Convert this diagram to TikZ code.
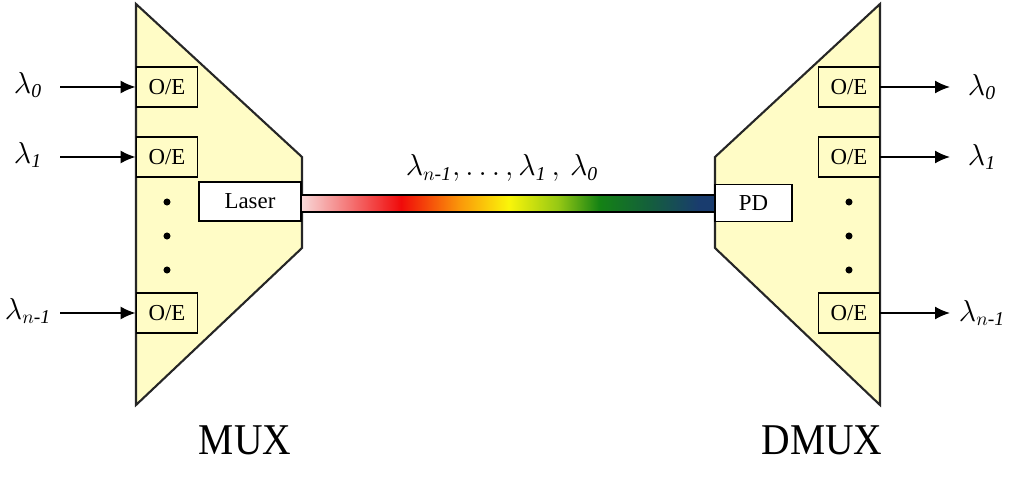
\documentclass[tikz,border=0pt]{standalone}
\usepackage{amsmath}
\usepackage{fontspec}
\setmainfont{Liberation Serif}
\usetikzlibrary{arrows.meta}

\definecolor{muxyellow}{RGB}{255,252,198}
\definecolor{fibpink}{RGB}{248,215,215}
\definecolor{fibred}{RGB}{240,10,10}
\definecolor{fiborange}{RGB}{250,150,10}
\definecolor{fibyellow}{RGB}{250,245,10}
\definecolor{fiblime}{RGB}{150,200,20}
\definecolor{fibgreen}{RGB}{20,130,20}
\definecolor{fibdkgreen}{RGB}{20,95,60}
\definecolor{fibblue}{RGB}{25,60,110}

% colour run of the fibre (middle 25bp--75bp is the path)
\pgfdeclarehorizontalshading{fiber}{100bp}{color(0bp)=(fibpink); color(25bp)=(fibpink);
  color(37bp)=(fibred); color(44bp)=(fiborange); color(50bp)=(fibyellow);
  color(56bp)=(fiblime); color(61bp)=(fibgreen); color(67bp)=(fibdkgreen);
  color(73bp)=(fibblue); color(75bp)=(fibblue); color(100bp)=(fibblue)}

\begin{document}
\begin{tikzpicture}[x=0.02cm, y=-0.02cm,
    oebox/.style={draw, line width=1pt, fill=muxyellow, minimum width=1.22cm,
      minimum height=0.79cm, inner sep=0pt, font=\fontsize{13}{15}\selectfont},
    whitebox/.style={draw, line width=1pt, fill=white, inner sep=0pt,
      font=\fontsize{13}{15}\selectfont},
    lam/.style={inner sep=0pt, font=\fontsize{16}{19}\selectfont},
    sig/.style={line width=1pt, -{Latex[length=0.3cm, width=0.26cm]}},
    muxbody/.style={fill=muxyellow, draw=black!85, line width=1.2pt},
    caption/.style={inner sep=0pt, xscale=0.9, font=\fontsize{25}{30}\selectfont}]

  \useasboundingbox (0,0) rectangle (1017,489);

  % Parameters
  \def\muxl{136}
  \def\muxr{302}
  \def\dmuxl{715}
  \def\dmuxr{880}

  % mux and dmux bodies
  \filldraw[muxbody] (\muxl,4) -- (\muxr,157) -- (\muxr,248) -- (\muxl,405) -- cycle;
  \filldraw[muxbody] (\dmuxr,4) -- (\dmuxl,157) -- (\dmuxl,248) -- (\dmuxr,405) -- cycle;

  % fibre
  \shade[shading=fiber] (\muxr,195) rectangle (\dmuxl,212);
  \draw[line width=1pt] (\muxr,195) -- (\dmuxl,195) (\muxr,212) -- (\dmuxl,212);
  \node[lam] (wdm) at (502,168)
    {$\lambda_{n\text{-}\mathit{1}},\ldots,\lambda_{\mathit{1}}\,,\,\lambda_{\mathit{0}}$};

  % laser and photodiode
  \node[whitebox, minimum width=2.04cm, minimum height=0.78cm] (laser) at (250,201.5) {Laser};
  \node[whitebox, minimum width=1.54cm, minimum height=0.74cm] (pd) at (753.5,203) {PD};

  % channels in and out
  \foreach \i/\y/\s in {0/87/\mathit{0},1/157/\mathit{1},2/313/n\text{-}\mathit{1}} {
    \node[oebox] (mi\i) at (167,\y) {O/E};
    \node[oebox] (mo\i) at (849,\y) {O/E};
    \coordinate (ai\i) at (60,\y);
    \coordinate (ao\i) at (950,\y);
    \draw[sig] (ai\i) -- (mi\i.west);
    \draw[sig] (mo\i.east) -- (ao\i);
    \node[lam] (li\i) at (28,\y-2) {$\lambda_{\s}$};
    \node[lam] (lo\i) at (982,\y) {$\lambda_{\s}$};
  }

  % dots
  \foreach \y in {202,236,270} {
    \fill (167,\y) circle (2pt);
    \fill (849,\y) circle (2pt);
  }

  % captions
  \node[caption] (mux) at (245,440) {MUX};
  \node[caption] (dmux) at (822,440) {DMUX};

\end{tikzpicture}
\end{document}
